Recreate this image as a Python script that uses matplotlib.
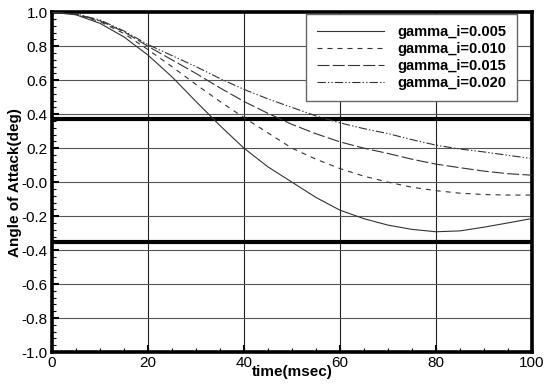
import matplotlib
matplotlib.use("Agg")
import matplotlib.pyplot as plt
from matplotlib.ticker import MultipleLocator
import numpy as np

plt.rcParams['font.family'] = ['Liberation Sans', 'DejaVu Sans']
plt.rcParams['lines.scale_dashes'] = False

t = [0, 5, 10, 15, 20, 25, 30, 35, 40, 45, 50, 55, 60, 65, 70, 75, 80, 85, 90, 95, 100]
g005 = [1.0, 0.985, 0.935, 0.855, 0.748, 0.62, 0.475, 0.333, 0.2, 0.09, 0.0, -0.09, -0.165,
        -0.215, -0.253, -0.278, -0.292, -0.287, -0.265, -0.24, -0.214]
g010 = [1.0, 0.988, 0.945, 0.875, 0.78, 0.68, 0.575, 0.475, 0.38, 0.29, 0.2, 0.135, 0.08,
        0.035, 0.0, -0.03, -0.05, -0.065, -0.073, -0.076, -0.076]
g015 = [1.0, 0.99, 0.95, 0.885, 0.80, 0.72, 0.64, 0.555, 0.475, 0.405, 0.34, 0.285, 0.237,
        0.2, 0.169, 0.135, 0.106, 0.085, 0.065, 0.05, 0.041]
g020 = [1.0, 0.99, 0.955, 0.89, 0.81, 0.745, 0.68, 0.61, 0.546, 0.49, 0.44, 0.39, 0.349,
        0.315, 0.286, 0.25, 0.218, 0.195, 0.178, 0.158, 0.139]
labels = ['gamma_i=0.005', 'gamma_i=0.010', 'gamma_i=0.015', 'gamma_i=0.020']
limit_hi = 0.37
limit_lo = -0.355

fig = plt.figure(figsize=(5.45, 3.84), dpi=100)
ax = fig.add_axes([0.0954, 0.0833, 0.976 - 0.0954, 0.968 - 0.0833])

ax.set_xlim(0, 100)
ax.set_ylim(-1.0, 1.0)
ax.xaxis.set_major_locator(MultipleLocator(20))
ax.xaxis.set_minor_locator(MultipleLocator(5))
ax.yaxis.set_minor_locator(MultipleLocator(0.04))
yt = np.round(np.arange(-1.0, 1.01, 0.2), 1)
ax.set_yticks(yt)
ax.set_yticklabels([f"{v:.1f}" for v in yt])

for v in [20, 40, 60, 80]:
    ax.axvline(v, color='#222222', lw=0.8, zorder=1)
for v in np.arange(-0.8, 0.81, 0.2):
    ax.axhline(v, color='#555555', lw=0.8, zorder=1)

ax.axhline(limit_hi, color='black', lw=3, zorder=2)
ax.axhline(limit_lo, color='black', lw=3, zorder=2)

styles = [
    dict(linestyle='-'),
    dict(dashes=(3.6, 3.6)),
    dict(dashes=(8.6, 2.4)),
    dict(dashes=(6, 1.5, 1, 1.5, 1, 1.5)),
]
for y, lab, st in zip([g005, g010, g015, g020], labels, styles):
    ax.plot(t, y, color='#333333', lw=0.8, label=lab, zorder=3, **st)

for s in ax.spines.values():
    s.set_linewidth(2.6)
ax.tick_params(which='major', direction='in', length=5, width=1.5, labelsize=11, pad=3)
ax.tick_params(which='minor', direction='in', length=3, width=0.8)

ax.set_xlabel('time(msec)', fontsize=11, fontweight='bold', labelpad=-4)
ax.set_ylabel('Angle of Attack(deg)', fontsize=11, fontweight='bold', labelpad=0)

leg = ax.legend(loc='upper right', bbox_to_anchor=(0.969, 0.995),
                prop={'weight': 'bold', 'size': 10.5}, handlelength=4.6,
                frameon=True, fancybox=False, framealpha=1, edgecolor='#666666',
                borderpad=0.75, labelspacing=0.2, handletextpad=0.9, borderaxespad=0)
leg.get_frame().set_linewidth(1.0)
leg.set_zorder(5)

fig.savefig('out.png', dpi=100)
